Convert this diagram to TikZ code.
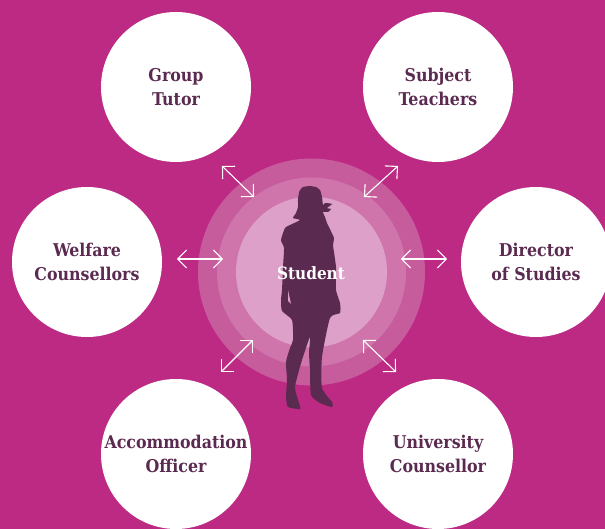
\documentclass[tikz,border=0pt]{standalone}
\usepackage{fontspec}
\setmainfont{DejaVu Serif Condensed}[BoldFont={DejaVu Serif Condensed Bold}]
\usetikzlibrary{arrows.meta}
\pgfdeclarearrow{
 name=VBarb,
 parameters={\the\pgfarrowlength},
 setup code={\pgfarrowssettipend{0.7pt}\pgfarrowssetbackend{-\pgfarrowlength}\pgfarrowssetlineend{-0.5pt}\pgfarrowssavethe\pgfarrowlength},
 drawing code={\pgfsetdash{}{0pt}\pgfsetlinewidth{1.1pt}\pgfsetmiterjoin
  \pgfpathmoveto{\pgfqpoint{-\pgfarrowlength}{\pgfarrowlength}}
  \pgfpathlineto{\pgfqpoint{0pt}{0pt}}
  \pgfpathlineto{\pgfqpoint{-\pgfarrowlength}{-\pgfarrowlength}}
  \pgfusepathqstroke},
 defaults={length=9pt}
}
\definecolor{bgm}{HTML}{BC2A84}
\definecolor{ringa}{HTML}{C75C9C}
\definecolor{ringb}{HTML}{CF75AC}
\definecolor{ringc}{HTML}{DDA0C8}
\definecolor{ink}{HTML}{5B2A50}
\tikzset{
 role/.style={circle,fill=white,minimum size=150pt,inner sep=0pt,text=ink,align=center,font=\fontsize{17.6}{24}\selectfont\bfseries},
 ring/.style={circle,inner sep=0pt},
 link/.style={draw=white,line width=1.1pt,{VBarb}-{VBarb}}
}
\begin{document}
\begin{tikzpicture}[x=1pt,y=-1pt]
\useasboundingbox (0,0) rectangle (605,529);
\fill[bgm] (0,0) rectangle (605,529);
\node[ring,fill=ringa,minimum size=227pt] (r1) at (311.5,272) {};
\node[ring,fill=ringb,minimum size=189pt] (r2) at (311.5,272) {};
\node[ring,fill=ringc,minimum size=151pt] (r3) at (311.5,272) {};
% silhouette
\fill[ink] plot[smooth,tension=0.35] coordinates {
 (310,186)(303,187)(299.5,191)(298,199)(298,207)(296,213)(293,218)(300,220)(290,225)(285,228)(281,240)(284,248)(283,267)(282,290)(281,300)(282,311)(292,320)(293,340)(290,348)(286,362)(287,380)(286,397)(288,407)(300,409)(299,403)(295,387)(302,360)(310,337)(309,353)(310,370)(311,395)(320,403)(332,407)(332,402)(322,388)(322,357)(330,318)(340,313)(340,303)(336,290)(336,267)(333,245)(334,238)(327,223)(325,217)(323,212)(328,212)(331,209)(327,208)(332,204)(325,203)(323,205)(322,197)(320,190)(316,187)} -- cycle;
\fill[ringc] (288,290)--(291,304)--(288,301)--cycle;
\node[role] (tutor) at (176,87) {Group\\Tutor};
\node[role] (teachers) at (438,87) {Subject\\Teachers};
\node[role] (welfare) at (87,262) {Welfare\\Counsellors};
\node[role] (director) at (536,262) {Director\\of Studies};
\node[role] (accom) at (176,454) {Accommodation\\Officer};
\node[role] (univ) at (438,454) {University\\Counsellor};
\node[text=white,font=\fontsize{17}{20}\selectfont\bfseries,inner sep=0pt] (student) at (311,273) {Student};
\coordinate (a1) at (222,166); \coordinate (a2) at (254,197);
\coordinate (b1) at (398,166); \coordinate (b2) at (364,197);
\coordinate (c1) at (177,259); \coordinate (c2) at (223,259);
\coordinate (d1) at (447,259); \coordinate (d2) at (401,259);
\coordinate (e1) at (221,372); \coordinate (e2) at (253,340);
\coordinate (f1) at (396,372); \coordinate (f2) at (363,340);
\draw[link] (a1)--(a2);
\draw[link] (b1)--(b2);
\draw[link] (c1)--(c2);
\draw[link] (d1)--(d2);
\draw[link] (e1)--(e2);
\draw[link] (f1)--(f2);
\end{tikzpicture}
\end{document}
